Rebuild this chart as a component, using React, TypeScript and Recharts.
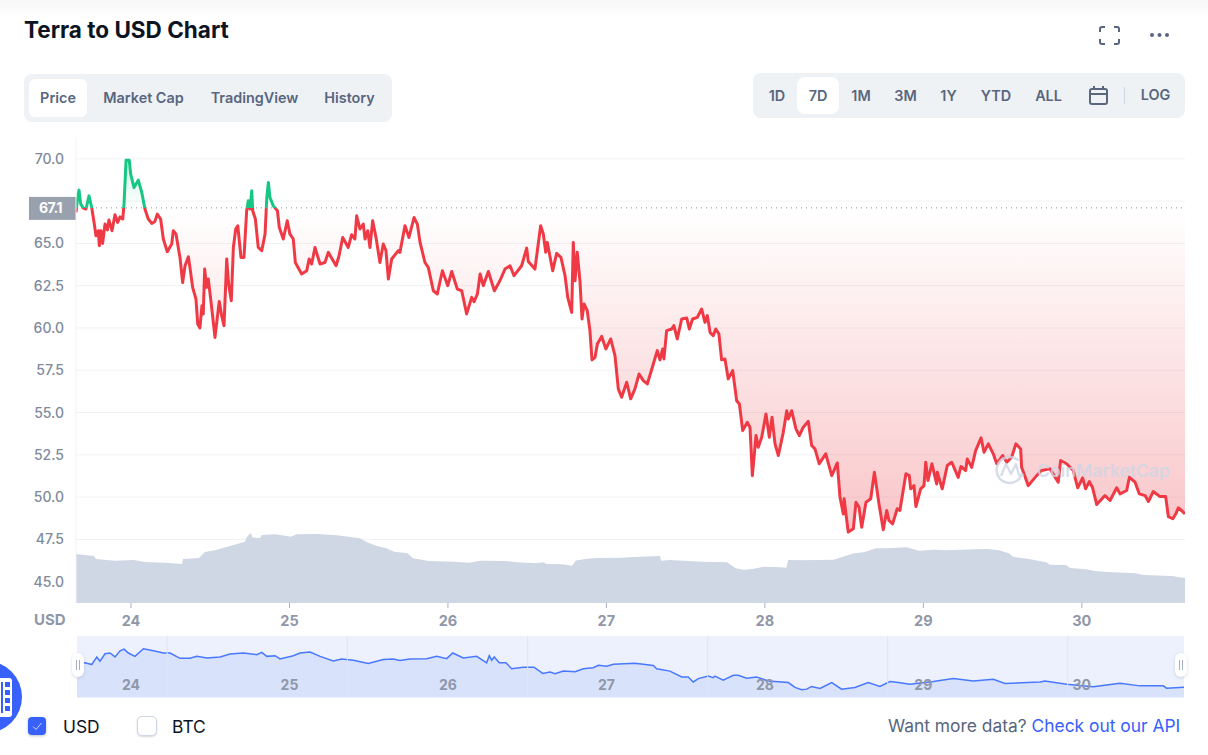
import React from 'react';
import {
  ComposedChart,
  Area,
  XAxis,
  YAxis,
  CartesianGrid,
  ReferenceLine,
} from 'recharts';

// price, USD. Time is in days of the month.
const priceDays = [
  23.653, 23.661, 23.672, 23.683, 23.699, 23.716, 23.735, 23.752, 23.767, 23.779, 23.794, 23.8, 23.811, 23.821,
  23.836, 23.851, 23.861, 23.88, 23.899, 23.916, 23.931, 23.948, 23.956, 23.969, 23.989, 23.998, 24.019, 24.046,
  24.068, 24.088, 24.109, 24.131, 24.151, 24.166, 24.187, 24.204, 24.229, 24.257, 24.267, 24.284, 24.309, 24.326,
  24.341, 24.362, 24.372, 24.389, 24.41, 24.421, 24.435, 24.448, 24.456, 24.465, 24.477, 24.488, 24.509, 24.53,
  24.557, 24.572, 24.587, 24.604, 24.616, 24.633, 24.646, 24.661, 24.674, 24.694, 24.713, 24.73, 24.74, 24.751,
  24.762, 24.768, 24.785, 24.803, 24.825, 24.846, 24.857, 24.867, 24.877, 24.898, 24.924, 24.936, 24.961, 24.986,
  25.003, 25.024, 25.037, 25.077, 25.109, 25.124, 25.14, 25.161, 25.193, 25.224, 25.245, 25.294, 25.313, 25.336,
  25.371, 25.392, 25.413, 25.424, 25.445, 25.466, 25.477, 25.494, 25.508, 25.525, 25.546, 25.571, 25.592, 25.609,
  25.624, 25.645, 25.687, 25.697, 25.729, 25.754, 25.786, 25.807, 25.824, 25.855, 25.876, 25.908, 25.933, 25.965,
  25.999, 26.024, 26.059, 26.087, 26.118, 26.15, 26.165, 26.186, 26.203, 26.223, 26.255, 26.293, 26.328, 26.36,
  26.392, 26.417, 26.465, 26.497, 26.507, 26.549, 26.585, 26.602, 26.617, 26.627, 26.661, 26.686, 26.713, 26.739,
  26.756, 26.781, 26.791, 26.802, 26.816, 26.833, 26.846, 26.859, 26.879, 26.896, 26.909, 26.928, 26.943, 26.97,
  26.997, 27.027, 27.054, 27.075, 27.096, 27.128, 27.153, 27.18, 27.206, 27.233, 27.258, 27.296, 27.321, 27.338,
  27.355, 27.363, 27.38, 27.412, 27.426, 27.447, 27.475, 27.507, 27.523, 27.544, 27.574, 27.601, 27.622, 27.637,
  27.654, 27.674, 27.69, 27.71, 27.727, 27.748, 27.769, 27.797, 27.822, 27.839, 27.86, 27.889, 27.906, 27.921,
  27.944, 27.958, 27.98, 28.007, 28.028, 28.045, 28.064, 28.085, 28.116, 28.138, 28.148, 28.169, 28.196, 28.217,
  28.242, 28.274, 28.295, 28.316, 28.343, 28.384, 28.422, 28.457, 28.474, 28.495, 28.5, 28.526, 28.558, 28.575,
  28.594, 28.611, 28.638, 28.668, 28.691, 28.72, 28.747, 28.769, 28.783, 28.806, 28.835, 28.852, 28.89, 28.911,
  28.92, 28.941, 28.953, 28.983, 29.004, 29.015, 29.029, 29.054, 29.084, 29.088, 29.119, 29.151, 29.179, 29.22,
  29.237, 29.267, 29.277, 29.305, 29.33, 29.364, 29.383, 29.41, 29.441, 29.463, 29.501, 29.526, 29.557, 29.584,
  29.614, 29.62, 29.662, 29.715, 29.746, 29.799, 29.851, 29.866, 29.904, 29.946, 29.974, 30.005, 30.024, 30.047,
  30.068, 30.094, 30.146, 30.178, 30.22, 30.241, 30.283, 30.3, 30.336, 30.363, 30.399, 30.42, 30.451, 30.493,
  30.529, 30.546, 30.574, 30.595, 30.609, 30.628, 30.651,
];
const priceValues = [
  66.83, 67.52, 68.15, 67.32, 67.09, 67.03, 67.81, 67.12, 66.24, 65.45, 65.75, 64.86, 65.75, 65.0,
  66.14, 65.79, 66.38, 65.75, 66.69, 66.24, 66.57, 66.44, 67.32, 69.92, 69.92, 69.1, 68.3, 68.74,
  68.01, 67.03, 66.44, 66.18, 66.3, 66.73, 66.44, 65.26, 64.51, 64.96, 65.75, 65.55, 64.17, 62.69,
  63.68, 64.21, 63.58, 62.4, 61.71, 60.24, 60.0, 61.32, 60.83, 63.48, 62.4, 62.89, 61.22, 59.44,
  61.57, 60.73, 60.14, 64.08, 62.6, 61.61, 64.76, 65.85, 66.04, 64.17, 64.17, 66.93, 67.52, 67.03,
  68.11, 66.93, 66.44, 64.76, 64.57, 65.55, 67.71, 68.6, 67.71, 67.22, 66.93, 65.94, 65.26, 66.34,
  65.55, 65.26, 63.87, 63.19, 63.38, 64.08, 63.78, 64.76, 63.78, 63.87, 64.47, 63.68, 64.27, 65.35,
  64.76, 65.51, 65.26, 66.63, 65.85, 66.14, 65.26, 65.75, 64.76, 66.34, 65.35, 63.87, 64.96, 64.57,
  62.89, 64.08, 64.57, 64.47, 66.04, 65.35, 66.53, 66.14, 65.06, 63.87, 63.58, 62.2, 62.01, 63.38,
  62.5, 63.34, 62.3, 62.2, 60.83, 61.81, 61.55, 62.01, 63.19, 62.5, 63.34, 62.2, 62.79, 63.48,
  63.68, 63.09, 63.68, 64.72, 63.93, 63.48, 66.04, 65.55, 64.47, 65.06, 63.38, 64.41, 64.17, 63.09,
  61.81, 60.92, 65.06, 62.79, 64.47, 62.79, 60.53, 61.42, 61.02, 59.84, 58.11, 58.26, 59.05, 59.5,
  58.76, 59.35, 58.36, 56.4, 55.9, 56.79, 55.81, 56.4, 57.28, 56.89, 56.69, 57.87, 58.66, 58.11,
  58.76, 58.17, 59.84, 59.94, 60.14, 59.35, 60.53, 60.59, 59.94, 60.53, 60.63, 61.12, 60.33, 60.73,
  59.74, 59.54, 59.94, 59.64, 58.11, 58.17, 56.99, 57.48, 55.7, 55.51, 53.93, 54.42, 54.13, 51.27,
  53.64, 52.95, 53.54, 54.92, 53.54, 54.72, 53.15, 52.46, 53.83, 55.11, 54.62, 55.11, 54.03, 53.64,
  54.13, 54.48, 53.05, 52.85, 51.97, 52.56, 51.27, 52.02, 49.99, 49.01, 49.9, 47.93, 48.13, 49.7,
  49.4, 48.22, 49.7, 49.9, 51.47, 49.6, 48.07, 49.21, 48.62, 48.42, 49.31, 49.21, 51.38, 51.27,
  50.49, 50.68, 49.44, 50.49, 50.68, 52.06, 50.98, 51.97, 50.78, 51.47, 50.49, 51.87, 52.06, 51.17,
  51.81, 51.57, 52.26, 51.76, 52.75, 53.5, 52.65, 53.15, 52.56, 51.97, 52.46, 52.06, 52.36, 53.15,
  52.85, 51.76, 50.68, 51.27, 51.57, 51.67, 50.88, 52.16, 51.97, 51.57, 50.55, 51.14, 50.49, 50.92,
  50.55, 49.56, 50.09, 49.8, 50.55, 50.19, 50.39, 51.17, 50.88, 50.19, 50.09, 49.74, 50.33, 50.03,
  50.03, 48.85, 48.72, 49.05, 49.37, 49.21, 49.01,
];

// traded volume, arbitrary billions, only the shape is readable
const volumeDays = [
  23.653, 23.767, 23.779, 23.899, 24.019, 24.088, 24.215, 24.322, 24.328, 24.429, 24.467, 24.536, 24.625, 24.719,
  24.732, 24.757, 24.767, 24.814, 24.826, 24.912, 25.009, 25.045, 25.177, 25.3, 25.445, 25.489, 25.552, 25.612,
  25.66, 25.745, 25.779, 25.878, 26.044, 26.133, 26.202, 26.36, 26.436, 26.556, 26.6, 26.625, 26.723, 26.783,
  26.808, 26.865, 26.941, 27.092, 27.171, 27.338, 27.345, 27.401, 27.609, 27.761, 27.815, 27.866, 27.919, 27.994,
  28.07, 28.136, 28.146, 28.228, 28.433, 28.562, 28.625, 28.701, 28.767, 28.896, 28.972, 29.063, 29.141, 29.332,
  29.412, 29.476, 29.54, 29.565, 29.666, 29.774, 29.799, 29.9, 29.925, 30.029, 30.081, 30.159, 30.338, 30.39,
  30.568, 30.651,
];
const volumeValues = [
  1.96, 1.88, 1.76, 1.69, 1.72, 1.64, 1.61, 1.56, 1.76, 1.8, 2.04, 2.12, 2.28, 2.45,
  2.65, 2.8, 2.61, 2.6, 2.72, 2.75, 2.65, 2.75, 2.76, 2.71, 2.59, 2.43, 2.28, 2.19,
  2.05, 1.99, 1.79, 1.68, 1.65, 1.61, 1.69, 1.68, 1.63, 1.59, 1.63, 1.56, 1.55, 1.49,
  1.7, 1.76, 1.8, 1.81, 1.84, 1.88, 1.69, 1.72, 1.65, 1.63, 1.39, 1.33, 1.36, 1.45,
  1.44, 1.41, 1.72, 1.71, 1.73, 1.99, 2.03, 2.19, 2.19, 2.23, 2.09, 2.13, 2.11, 2.15,
  2.16, 2.11, 1.99, 1.85, 1.76, 1.63, 1.53, 1.52, 1.4, 1.35, 1.28, 1.24, 1.19, 1.12,
  1.08, 1.0,
];

// navigator strip under the chart
const navDays = [
  23.659, 23.71, 23.752, 23.784, 23.804, 23.836, 23.867, 23.899, 23.931, 23.956, 23.983, 24.025, 24.078, 24.141,
  24.204, 24.246, 24.309, 24.372, 24.415, 24.478, 24.562, 24.625, 24.709, 24.793, 24.825, 24.857, 24.909, 24.94,
  25.024, 25.066, 25.13, 25.193, 25.276, 25.329, 25.403, 25.497, 25.592, 25.655, 25.697, 25.76, 25.866, 25.929,
  25.992, 26.03, 26.097, 26.181, 26.244, 26.261, 26.276, 26.292, 26.324, 26.366, 26.402, 26.475, 26.543, 26.598,
  26.644, 26.676, 26.728, 26.802, 26.854, 26.917, 26.949, 27.002, 27.044, 27.18, 27.296, 27.317, 27.401, 27.475,
  27.516, 27.548, 27.58, 27.643, 27.674, 27.685, 27.737, 27.801, 27.832, 27.885, 27.948, 28.021, 28.148, 28.19,
  28.232, 28.264, 28.295, 28.348, 28.422, 28.484, 28.568, 28.652, 28.726, 28.789, 28.842, 28.916, 29.063, 29.189,
  29.315, 29.441, 29.515, 29.736, 29.767, 29.904, 30.072, 30.241, 30.367, 30.514, 30.535, 30.645,
];
const navValues = [
  61.75, 62.69, 61.75, 65.99, 63.57, 67.8, 68.19, 65.99, 69.45, 70.39, 68.19, 66.32, 70.55, 69.45,
  68.19, 68.19, 65.22, 65.22, 66.32, 65.44, 65.99, 67.64, 68.19, 67.25, 68.52, 66.32, 66.7, 64.89,
  66.7, 68.19, 68.74, 66.32, 63.79, 64.89, 64.12, 62.3, 64.5, 64.89, 63.95, 64.89, 65.05, 66.32,
  65.05, 68.19, 65.44, 66.32, 62.69, 66.7, 64.12, 65.99, 62.69, 62.69, 59.39, 60.27, 60.27, 56.8,
  57.52, 56.64, 58.07, 57.74, 59.39, 59.94, 61.37, 60.82, 61.92, 62.47, 61.2, 59.39, 58.07, 54.77,
  54.77, 52.02, 53.89, 55.32, 54.44, 55.32, 52.95, 55.7, 55.7, 54.05, 54.77, 52.57, 51.69, 48.94,
  47.62, 48.0, 49.49, 48.39, 51.69, 48.0, 48.94, 51.69, 49.49, 52.24, 51.69, 50.75, 52.24, 53.89,
  52.57, 53.5, 51.14, 52.02, 52.57, 50.75, 49.27, 51.3, 49.82, 49.82, 48.55, 49.1,
];
const navGridDays = [24.228, 25.365, 26.503, 27.639, 28.775, 29.911];

const dayTicks = [24, 25, 26, 27, 28, 29, 30];
const priceTicks = [45, 47.5, 50, 52.5, 55, 57.5, 60, 62.5, 65, 67.5, 70];
const openPrice = 67.1;

const metricTabs = ['Price', 'Market Cap', 'TradingView', 'History'];
const rangeTabs = ['1D', '7D', '1M', '3M', '1Y', 'YTD', 'ALL'];

const priceData = priceDays.map((day, i) => ({ day, price: priceValues[i] }));
const volumeData = volumeDays.map((day, i) => ({ day, volume: volumeValues[i] }));
const navData = navDays.map((day, i) => ({ day, price: navValues[i] }));

const UP = '#16c784';
const DOWN = '#ea3943';
const FONT = 'Inter, sans-serif';
const DOMAIN_X: [number, number] = [23.653, 30.651];

// where the open price falls inside the price path's bounding box
const maxPrice = Math.max(...priceValues);
const minPrice = Math.min(...priceValues);
const splitAt = (maxPrice - openPrice) / (maxPrice - minPrice);

const metricCenters = [58, 143.5, 254.5, 349.5];
const rangeCenters = [777, 818, 861, 905.5, 948.5, 996, 1048.5];

function Label({ x, y, size = 14.4, weight = 600, color = '#58667e', anchor = 'start', children }: any) {
  const tx = anchor === 'middle' ? 'translate(-50%,-50%)' : 'translateY(-50%)';
  return (
    <span
      style={{
        position: 'absolute',
        left: x,
        top: y,
        transform: tx,
        fontFamily: FONT,
        fontSize: size,
        fontWeight: weight,
        color,
        whiteSpace: 'nowrap',
      }}
    >
      {children}
    </span>
  );
}

function OpenTag({ viewBox }: any) {
  const x = viewBox.x;
  const y = viewBox.y;
  return (
    <g>
      <rect x={x - 47} y={y - 11} width={47} height={23} fill="#9aa1ae" />
      <text x={x - 25.5} y={y + 5} textAnchor="middle" fontFamily={FONT} fontSize={14} fontWeight={700} letterSpacing={-0.5} fill="#fff">
        67.1
      </text>
    </g>
  );
}

function NavTick({ x, y, payload }: any) {
  return (
    <text x={x} y={y - 15} textAnchor="middle" fontFamily={FONT} fontSize={14} fontWeight={700} fill="#8f97a8">
      {payload.value}
    </text>
  );
}

function Handle({ x }: { x: number }) {
  return (
    <div
      style={{
        position: 'absolute',
        left: x,
        top: 653,
        width: 12,
        height: 24,
        background: '#fff',
        borderRadius: 6,
        boxShadow: '0 1px 3px rgba(88,102,126,0.25)',
      }}
    >
      <div style={{ position: 'absolute', left: 4, top: 7, width: 1, height: 10, background: '#a6b0c3' }} />
      <div style={{ position: 'absolute', left: 7, top: 7, width: 1, height: 10, background: '#a6b0c3' }} />
    </div>
  );
}

export default function App() {
  return (
    <div style={{ position: 'absolute', left: 0, top: 0, width: 1208, height: 755, overflow: 'hidden', background: '#fff' }}>
      <div style={{ position: 'absolute', left: 0, top: 0, width: 1208, height: 18, background: 'linear-gradient(#f7f7f7, #fff)' }} />

      <Label x={24} y={29} size={22.5} weight={700} color="#0d1421">Terra to USD Chart</Label>

      {/* metric tabs */}
      <div style={{ position: 'absolute', left: 24, top: 74, width: 368, height: 48, background: '#eff2f5', borderRadius: 8 }} />
      <div style={{ position: 'absolute', left: 29, top: 79, width: 58, height: 38, background: '#fff', borderRadius: 6 }} />
      {metricTabs.map((t, i) => (
        <Label key={t} x={metricCenters[i]} y={97} anchor="middle">{t}</Label>
      ))}

      {/* range tabs */}
      <div style={{ position: 'absolute', left: 753, top: 73, width: 432, height: 45, background: '#eff2f5', borderRadius: 8 }} />
      <div style={{ position: 'absolute', left: 797, top: 77, width: 42, height: 37, background: '#fff', borderRadius: 8 }} />
      {rangeTabs.map((t, i) => (
        <Label key={t} x={rangeCenters[i]} y={95} anchor="middle">{t}</Label>
      ))}
      <Label x={1155.5} y={94} anchor="middle">LOG</Label>
      <div style={{ position: 'absolute', left: 1124, top: 87, width: 1, height: 17, background: '#cfd6e4' }} />

      <svg style={{ position: 'absolute', left: 0, top: 0 }} width={1208} height={130} fill="none" stroke="#58667e">
        {/* calendar */}
        <rect x={1090} y={89} width={17} height={15} rx={2} strokeWidth={2} />
        <path d="M1090 94h17M1094 86v4M1103 86v4" strokeWidth={2} />
        {/* fullscreen */}
        <path d="M1100 32v-3a2 2 0 0 1 2-2h3M1114 27h3a2 2 0 0 1 2 2v3M1119 39v3a2 2 0 0 1-2 2h-3M1105 44h-3a2 2 0 0 1-2-2v-3" strokeWidth={2} />
        {/* more */}
        <circle cx={1152} cy={35} r={2} fill="#58667e" stroke="none" />
        <circle cx={1159.5} cy={35} r={2} fill="#58667e" stroke="none" />
        <circle cx={1167} cy={35} r={2} fill="#58667e" stroke="none" />
      </svg>

      {/* main chart */}
      <div style={{ position: 'absolute', left: 0, top: 0 }}>
        <ComposedChart width={1208} height={640} margin={{ top: 137, right: 23, bottom: 0, left: 0 }}>
          <defs>
            <linearGradient id="splitStroke" x1="0" y1="0" x2="0" y2="1">
              <stop offset={splitAt} stopColor={UP} />
              <stop offset={splitAt} stopColor="#ef3a45" />
            </linearGradient>
            <linearGradient id="splitFill" x1="0" y1="0" x2="0" y2="1">
              <stop offset={0} stopColor={UP} stopOpacity={0.2} />
              <stop offset={splitAt} stopColor={UP} stopOpacity={0} />
              <stop offset={splitAt} stopColor={DOWN} stopOpacity={0} />
              <stop offset={1} stopColor={DOWN} stopOpacity={0.29} />
            </linearGradient>
          </defs>
          <CartesianGrid yAxisId="price" vertical={false} horizontalValues={priceTicks} stroke="#eff2f5" />
          <XAxis
            dataKey="day"
            type="number"
            domain={DOMAIN_X}
            ticks={dayTicks}
            allowDataOverflow
            height={37}
            axisLine={false}
            tickSize={5}
            tickMargin={8}
            tickLine={{ stroke: '#a6b0c3' }}
            tick={{ fill: '#8f97a8', fontSize: 14.5, fontWeight: 700, fontFamily: FONT }}
          />
          <YAxis
            yAxisId="price"
            domain={[43.74, 71.29]}
            ticks={priceTicks}
            allowDataOverflow
            width={76}
            tickLine={false}
            tickSize={0}
            tickMargin={12}
            axisLine={{ stroke: '#eff2f5' }}
            tickFormatter={(v: number) => (v === 67.5 ? '' : v.toFixed(1))}
            tick={{ fill: '#808a9d', fontSize: 14, fontWeight: 500, fontFamily: FONT }}
          />
          <YAxis yAxisId="volume" hide domain={[0, 18.64]} allowDataOverflow />
          <Area
            yAxisId="volume"
            data={volumeData}
            dataKey="volume"
            type="linear"
            stroke="none"
            fill="#cfd6e4"
            fillOpacity={1}
            isAnimationActive={false}
            dot={false}
            activeDot={false}
          />
          <Area
            yAxisId="price"
            data={priceData}
            dataKey="price"
            type="linear"
            baseValue={openPrice}
            stroke="url(#splitStroke)"
            strokeWidth={3}
            strokeLinejoin="round"
            fill="url(#splitFill)"
            fillOpacity={1}
            isAnimationActive={false}
            dot={false}
            activeDot={false}
          />
          <ReferenceLine
            yAxisId="price"
            y={openPrice}
            stroke="#8a919e"
            strokeDasharray="1 4"
            label={<OpenTag />}
          />
        </ComposedChart>
      </div>

      <Label x={34} y={619} size={15} weight={700} color="#8f97a8">USD</Label>

      {/* watermark */}
      <svg style={{ position: 'absolute', left: 990, top: 450, opacity: 0.8 }} width={200} height={40}>
        <path
          d="M32 24a13 13 0 1 1-4-14"
          fill="none"
          stroke="#cfd6e4"
          strokeWidth={2.6}
          strokeLinecap="round"
        />
        <path d="M11 26l5-12 5 10 5-10 3 11 5 1" fill="none" stroke="#cfd6e4" strokeWidth={2.4} strokeLinejoin="round" />
        <text x={47} y={27} fontFamily={FONT} fontSize={17.6} fontWeight={600} fill="#cfd6e4">CoinMarketCap</text>
      </svg>

      {/* navigator */}
      <div style={{ position: 'absolute', left: 77, top: 636, width: 1107, height: 62, background: '#edf1fd' }} />
      <div style={{ position: 'absolute', left: 77, top: 636 }}>
        <ComposedChart width={1107} height={62} margin={{ top: 0, right: 0, bottom: 0, left: 0 }}>
          <XAxis
            dataKey="day"
            type="number"
            domain={[23.659, 30.645]}
            ticks={dayTicks}
            allowDataOverflow
            height={1}
            axisLine={false}
            tickLine={false}
            tick={<NavTick />}
          />
          <YAxis hide domain={[43.6, 77.7]} allowDataOverflow />
          {navGridDays.map((d) => (
            <ReferenceLine key={d} x={d} stroke="#dfe5f7" />
          ))}
          <Area
            data={navData}
            dataKey="price"
            type="linear"
            stroke="#4878ff"
            strokeWidth={1.5}
            fill="#d9e2fb"
            fillOpacity={1}
            isAnimationActive={false}
            dot={false}
            activeDot={false}
          />
        </ComposedChart>
      </div>
      <Handle x={72} />
      <Handle x={1175} />

      {/* floating widget at the left edge */}
      <svg style={{ position: 'absolute', left: 0, top: 655 }} width={26} height={84}>
        <circle cx={-14} cy={42} r={36} fill="#3861fb" />
        <rect x={-4} y={23} width={16} height={39} rx={3} fill="#fff" />
        <rect x={5} y={27} width={5} height={5} fill="#3861fb" />
        <rect x={5} y={35} width={5} height={5} fill="#3861fb" />
        <rect x={5} y={43} width={5} height={5} fill="#3861fb" />
        <rect x={5} y={51} width={5} height={5} fill="#3861fb" />
        <rect x={1} y={27} width={2} height={31} fill="#3861fb" />
      </svg>

      {/* currency toggles */}
      <div style={{ position: 'absolute', left: 28, top: 717, width: 18, height: 18, background: '#3861fb', borderRadius: 4, boxShadow: '0 1px 3px rgba(88,102,126,0.4)' }} />
      <svg style={{ position: 'absolute', left: 28, top: 717 }} width={18} height={18}>
        <path d="M5 9.5l3 3 5.5-6.5" fill="none" stroke="#c9d6ff" strokeWidth={1} />
      </svg>
      <Label x={63} y={726} size={17.4} weight={400} color="#0d1421">USD</Label>
      <div style={{ position: 'absolute', left: 137, top: 716, width: 18, height: 18, background: '#fff', border: '1px solid #cfd6e4', borderRadius: 5, boxShadow: '0 1px 2px rgba(88,102,126,0.25)' }} />
      <Label x={172} y={726} size={17.4} weight={400} color="#0d1421">BTC</Label>

      <Label x={888} y={725} size={17.4} weight={400} color="#58667e">
        Want more data? <span style={{ color: '#3861fb' }}>Check out our API</span>
      </Label>
    </div>
  );
}
